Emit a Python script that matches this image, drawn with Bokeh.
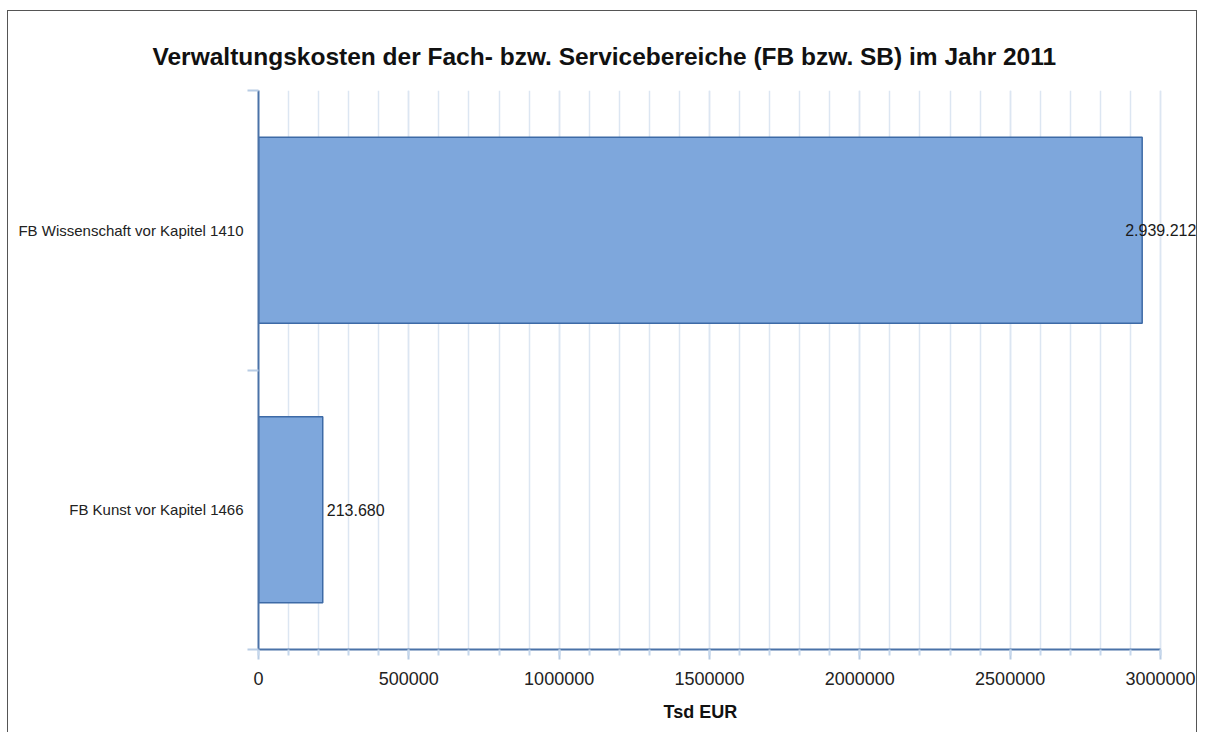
from bokeh.plotting import figure
from bokeh.models import FixedTicker, ColumnDataSource, Range1d, Title, Label
from bokeh.embed import file_html
from bokeh.resources import INLINE

# ---- data ----
categories = ["FB Kunst vor Kapitel 1466", "FB Wissenschaft vor Kapitel 1410"]
costs = [213680, 2939212]
cost_labels = ["213.680", "2.939.212"]
x_ticks = [0, 500000, 1000000, 1500000, 2000000, 2500000, 3000000]
x_tick_labels = ["0", "500000", "1000000", "1500000", "2000000", "2500000", "3000000"]
title_text = "Verwaltungskosten der Fach- bzw. Servicebereiche (FB bzw. SB) im Jahr 2011"
x_label = "Tsd EUR"

FONT = "Liberation Sans"
pos = [i + 0.5 for i in range(len(categories))]
xmax = x_ticks[-1]
# frame is extended to the right edge (so value labels are not clipped);
# axis/grid are bounded to [0, xmax]
axis_px = 901.0
frame_px = 939.0
x_end = xmax * frame_px / axis_px

src = ColumnDataSource(dict(y=pos, v=costs))

p = figure(width=1190, height=722, output_backend="svg", toolbar_location=None,
           x_range=Range1d(0, x_end), y_range=Range1d(0, len(categories)),
           min_border_left=250, min_border_right=0, min_border_top=79, min_border_bottom=81)
p.styles = {"margin-left": "7px", "margin-top": "10px",
            "border-left": "1px solid #555555", "border-top": "1px solid #555555",
            "border-right": "1px solid #555555"}
p.outline_line_color = None
p.background_fill_color = "white"
p.border_fill_color = "white"

t = Title(text=title_text, align="left", offset=-106, standoff=41,
          text_font=FONT, text_font_size="24.5px", text_font_style="bold", text_color="#111111")
p.add_layout(t, "above")

p.hbar(y="y", left=0, right="v", height=0.665, source=src,
       fill_color="#7ea7dc", line_color="#3d6aa6", line_width=1.5)

for c, yy, lab in zip(costs, pos, cost_labels):
    off = -17 if c > 0.95 * xmax else 4
    p.add_layout(Label(x=c, y=yy, text=lab, x_offset=off,
                       text_baseline="middle", text_align="left",
                       text_font=FONT, text_font_size="16px", text_color="#1a1a1a"))

# x axis
p.xaxis.bounds = (0, xmax)
p.xaxis.ticker = FixedTicker(ticks=x_ticks, minor_ticks=list(range(0, xmax + 1, 100000)))
p.xaxis.major_label_overrides = {t_: l for t_, l in zip(x_ticks, x_tick_labels)}
p.xaxis.axis_line_color = "#4a72a8"
p.xaxis.axis_line_width = 2
p.xaxis.major_tick_line_color = "#b8cce4"
p.xaxis.major_tick_line_width = 2
p.xaxis.major_tick_out = 10
p.xaxis.major_tick_in = 0
p.xaxis.minor_tick_line_color = "#c6d7ec"
p.xaxis.minor_tick_line_width = 2
p.xaxis.minor_tick_out = 6
p.xaxis.minor_tick_in = 0
p.xaxis.major_label_standoff = 12
p.xaxis.major_label_text_font = FONT
p.xaxis.major_label_text_font_size = "18px"
p.xaxis.major_label_text_color = "#222222"

# x axis title, centred under the [0, xmax] axis
xt = Title(text=x_label, align="left", offset=405, standoff=24,
           text_font=FONT, text_font_size="18px", text_font_style="bold", text_color="#111111")
p.add_layout(xt, "below")

# y axis
p.yaxis.ticker = FixedTicker(ticks=pos, minor_ticks=list(range(0, len(categories) + 1)))
p.yaxis.major_label_overrides = {y: c for y, c in zip(pos, categories)}
p.yaxis.axis_line_color = "#4a72a8"
p.yaxis.axis_line_width = 2
p.yaxis.major_tick_line_color = None
p.yaxis.major_tick_out = 0
p.yaxis.major_tick_in = 0
p.yaxis.minor_tick_line_color = "#b8cce4"
p.yaxis.minor_tick_line_width = 2
p.yaxis.minor_tick_out = 11
p.yaxis.minor_tick_in = 0
p.yaxis.major_label_standoff = 4
p.yaxis.major_label_text_font = FONT
p.yaxis.major_label_text_font_size = "15px"
p.yaxis.major_label_text_color = "#222222"

# grids
p.xgrid.grid_line_color = "#dce6f2"
p.xgrid.grid_line_width = 1.5
p.xgrid.minor_grid_line_color = "#dce6f2"
p.xgrid.minor_grid_line_width = 1.5
p.ygrid.ticker = FixedTicker(ticks=[len(categories)])
p.ygrid.cross_bounds = (0, xmax)
p.ygrid.grid_line_color = "#dce6f2"
p.ygrid.grid_line_width = 1.5

open("out.html", "w").write(file_html(p, INLINE))
